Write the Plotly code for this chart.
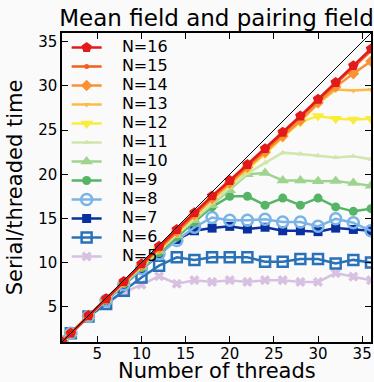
import plotly.graph_objects as go

threads = [1, 2, 4, 6, 8, 10, 12, 14, 16, 18, 20, 22, 24, 26, 28, 30, 32, 34, 36]

n16 = [1, 2.0, 4.0, 5.9, 7.85, 9.85, 11.85, 13.75, 15.65, 17.55, 19.3, 21.1, 22.9, 24.75, 26.6, 28.5, 30.4, 32.3, 34.2]
n15 = [1, 2.0, 3.95, 5.85, 7.8, 9.75, 11.7, 13.6, 15.5, 17.4, 19.15, 20.95, 22.75, 24.6, 26.45, 28.35, 30.2, 32.1, 34.0]
n14 = [1, 2.0, 3.95, 5.85, 7.75, 9.7, 11.6, 13.5, 15.4, 17.25, 19.0, 20.8, 22.5, 24.3, 26.1, 28.1, 29.9, 31.4, 32.8]
n13 = [1, 2.0, 3.95, 5.85, 7.75, 9.65, 11.55, 13.45, 15.3, 17.15, 18.9, 20.6, 22.4, 24.2, 26.0, 28.0, 29.6, 29.5, 29.6]
n12 = [1, 2.0, 3.95, 5.85, 7.75, 9.65, 11.5, 13.4, 15.25, 17.1, 18.85, 20.6, 22.3, 24.2, 25.9, 26.6, 26.3, 26.2, 26.3]
n11 = [1, 2.0, 3.95, 5.8, 7.7, 9.6, 11.4, 13.2, 15.0, 16.8, 18.5, 20.1, 21.3, 22.45, 22.3, 22.1, 21.9, 22.05, 21.7]
n10 = [1, 2.0, 3.9, 5.8, 7.65, 9.5, 11.3, 13.1, 14.8, 16.5, 18.2, 20.0, 20.15, 19.3, 19.3, 19.2, 19.25, 19.0, 18.7]
n9 = [1, 2.0, 3.9, 5.75, 7.6, 9.4, 11.1, 12.9, 14.6, 16.3, 17.5, 17.5, 16.5, 17.3, 16.5, 17.3, 16.3, 15.8, 16.1]
n8 = [1, 2.0, 3.9, 5.7, 7.5, 9.3, 11.0, 12.5, 14.0, 15.1, 14.8, 14.8, 14.9, 14.6, 14.6, 14.1, 14.95, 14.5, 13.6]
n7 = [1, 2.0, 3.9, 5.7, 7.5, 9.2, 10.9, 12.6, 13.6, 13.9, 14.1, 13.8, 14.0, 13.6, 13.6, 13.5, 13.9, 13.75, 13.6]
n6 = [1, 2.0, 3.9, 5.3, 6.8, 8.3, 9.65, 10.6, 10.3, 10.6, 10.6, 10.6, 10.1, 10.1, 10.4, 10.4, 9.9, 10.3, 10.0]
n5 = [1, 2.0, 3.9, 5.3, 6.6, 7.5, 8.45, 7.6, 8.0, 7.8, 8.0, 7.8, 8.0, 8.0, 7.8, 7.8, 8.8, 8.4, 8.0]

names = ["N=5", "N=6", "N=7", "N=8", "N=9", "N=10", "N=11", "N=12", "N=13", "N=14", "N=15", "N=16"]
values = [n5, n6, n7, n8, n9, n10, n11, n12, n13, n14, n15, n16]

x_ticks = [5, 10, 15, 20, 25, 30, 35]
y_ticks = [5, 10, 15, 20, 25, 30, 35]

styles = {
    "N=16": dict(color="#e31a1c", symbol="pentagon", size=11),
    "N=15": dict(color="#f0601c", symbol="circle", size=5),
    "N=14": dict(color="#f99232", symbol="diamond", size=9),
    "N=13": dict(color="#fbbc45", symbol="triangle-down", size=6),
    "N=12": dict(color="#f9ec3c", symbol="triangle-down", size=11),
    "N=11": dict(color="#cfe6ad", symbol="triangle-up", size=6),
    "N=10": dict(color="#9fd48f", symbol="triangle-up", size=11),
    "N=9": dict(color="#55b564", symbol="circle", size=9),
    "N=8": dict(color="#7ab4e6", symbol="circle-open", size=11),
    "N=7": dict(color="#0a2f9e", symbol="square", size=9),
    "N=6": dict(color="#2a72b8", symbol="square-open", size=10),
    "N=5": dict(color="#d8c0e0", symbol="x", size=9),
}

FONT = "DejaVu Sans"
PAD = "\u00a0\u00a0\u00a0"
fig = go.Figure()
for name, vals in zip(names, values):
    st = styles[name]
    marker = dict(symbol=st["symbol"], size=st["size"], color=st["color"])
    if st["symbol"].endswith("open"):
        marker["line"] = dict(width=2.5, color=st["color"])
    else:
        marker["line"] = dict(width=0)
    fig.add_trace(go.Scatter(
        x=threads, y=vals, mode="lines+markers",
        name='<span style="font-size:16px">%s%s</span>' % (PAD, name),
        line=dict(color=st["color"], width=2.5),
        marker=marker,
    ))

fig.add_trace(go.Scatter(x=[1, 36], y=[1, 36], mode="lines",
                         line=dict(color="black", width=1), showlegend=False))

axis_common = dict(
    showgrid=False, zeroline=False, showline=True, linecolor="black", linewidth=1.5,
    mirror="ticks", ticks="inside", ticklen=6, tickwidth=1, tickcolor="black",
    tickfont=dict(family=FONT, size=15, color="black"),
)
fig.update_xaxes(range=[1, 36], tickvals=x_ticks, ticklabelstandoff=-3, **axis_common)
fig.update_yaxes(range=[1, 36], tickvals=y_ticks, **axis_common,
                 title=dict(text="Serial/threaded time", font=dict(family=FONT, size=21, color="black"), standoff=10))

fig.add_annotation(text="Number of threads", xref="paper", yref="paper", x=0.5, y=-0.0925,
                   xanchor="center", yanchor="middle", showarrow=False, borderpad=0,
                   font=dict(family=FONT, size=21, color="black"))

fig.update_layout(
    width=374, height=382,
    margin=dict(l=62, r=3, t=33, b=40, autoexpand=False),
    paper_bgcolor="#fafafa", plot_bgcolor="#fafafa",
    title=dict(text="Mean field and pairing field", x=0.579, xanchor="center", y=0.953, yanchor="middle",
               font=dict(family=FONT, size=23, color="black")),
    legend=dict(x=0.015, y=1.0, xanchor="left", yanchor="top", traceorder="reversed",
                bgcolor="rgba(0,0,0,0)", font=dict(family=FONT, size=12, color="black"),
                tracegroupgap=0),
    showlegend=True,
)

fig.write_html("out.html")
